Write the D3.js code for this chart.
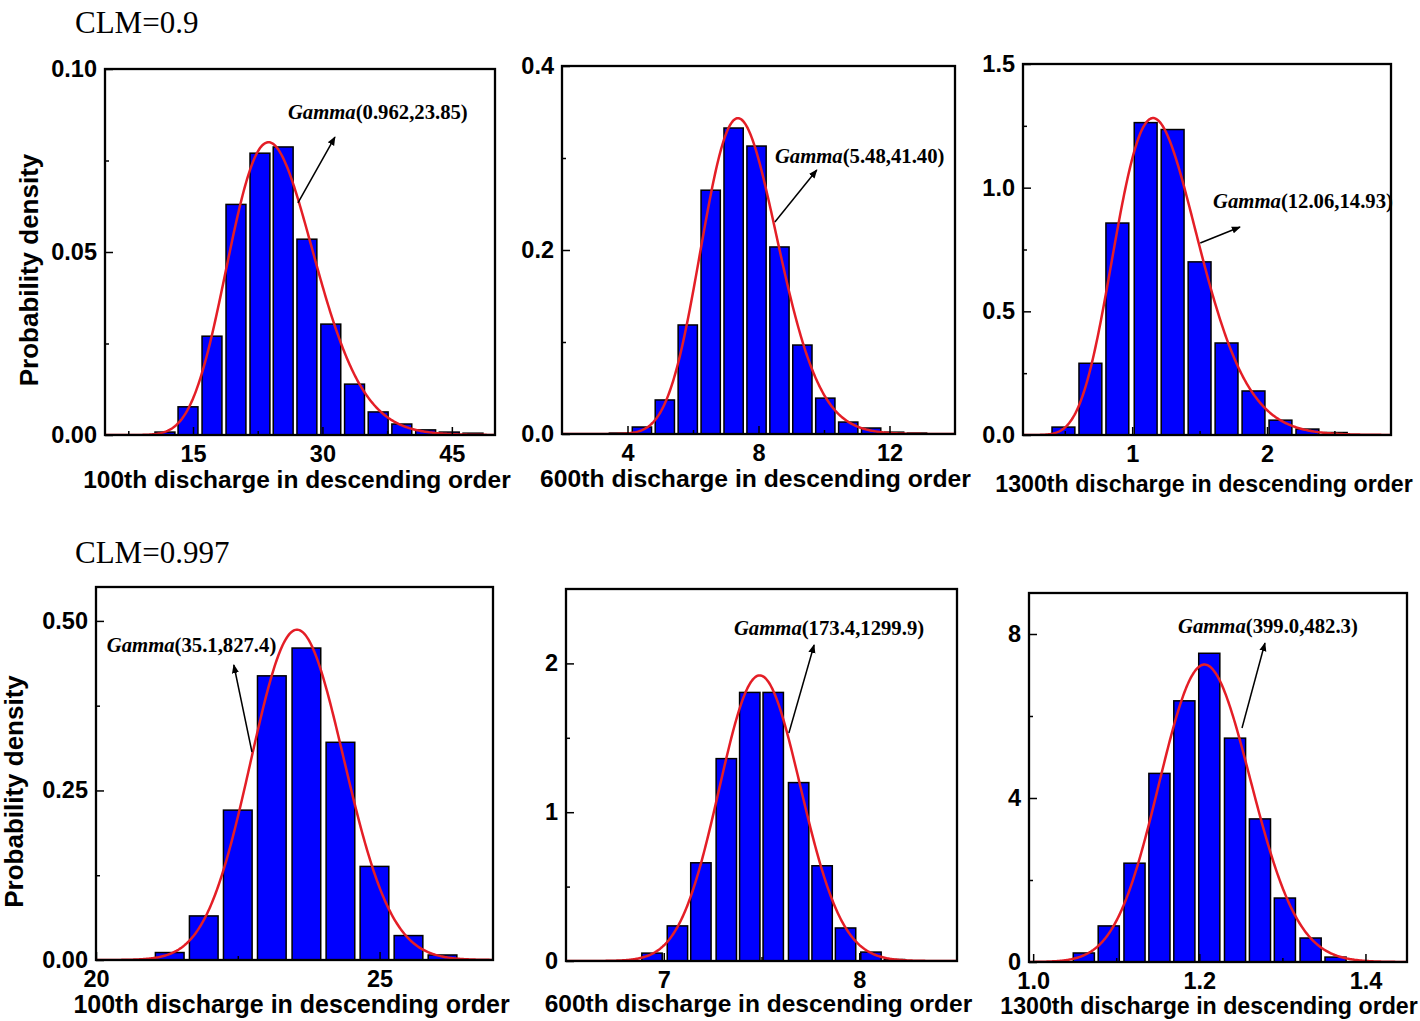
<!DOCTYPE html>
<html>
<head>
<meta charset="utf-8">
<script src="https://cdn.jsdelivr.net/npm/d3@7"></script>
<style>
  body { margin: 0; background: #fff; }
  svg { display: block; }
  .tick text { font-family: "Liberation Sans", Arial, sans-serif; font-weight: bold; font-size: 23.5px; fill: #000; }
  .ttl { font-family: "Liberation Sans", Arial, sans-serif; font-weight: bold; font-size: 24.5px; fill: #000; }
  .clm { font-family: "Liberation Serif", "Times New Roman", serif; font-size: 31px; fill: #000; }
  .gam { font-family: "Liberation Serif", "Times New Roman", serif; font-weight: bold; font-size: 20.7px; fill: #000; }
</style>
</head>
<body>
<div id="canvas"></div>
<script>
// values, one entry per panel (top row CLM=0.9, bottom row CLM=0.997)
var rowTitles = ["CLM=0.9", "CLM=0.997"];
var xTitles = ["100th discharge in descending order", "600th discharge in descending order",
               "1300th discharge in descending order", "100th discharge in descending order",
               "600th discharge in descending order", "1300th discharge in descending order"];

var gammaRate  = [0.962, 5.48, 12.06, 35.1, 173.4, 399.0];
var gammaShape = [23.85, 41.40, 14.93, 827.4, 1299.9, 482.3];
var gammaText  = ["(0.962,23.85)", "(5.48,41.40)", "(12.06,14.93)", "(35.1,827.4)", "(173.4,1299.9)", "(399.0,482.3)"];

var xDomains = [[4.8, 50], [2, 14], [0.19, 2.92], [20, 27], [6.5, 8.5], [0.995, 1.45]];
var yDomains = [[0, 0.10], [0, 0.4], [0, 1.5], [0, 0.55], [0, 2.5], [0, 9]];

var xTicks = [[15, 30, 45], [4, 8, 12], [1, 2], [20, 25], [7, 8], [1.0, 1.2, 1.4]];
var xTickLabels = [["15", "30", "45"], ["4", "8", "12"], ["1", "2"], ["20", "25"], ["7", "8"], ["1.0", "1.2", "1.4"]];
var xMinor = [[7.5, 22.5, 37.5], [6, 10], [0.5, 1.5, 2.5], [22.5], [7.5], [1.1, 1.3]];

var yTicks = [[0, 0.05, 0.10], [0, 0.2, 0.4], [0, 0.5, 1.0, 1.5], [0, 0.25, 0.5], [0, 1, 2], [0, 4, 8]];
var yTickLabels = [["0.00", "0.05", "0.10"], ["0.0", "0.2", "0.4"], ["0.0", "0.5", "1.0", "1.5"],
                   ["0.00", "0.25", "0.50"], ["0", "1", "2"], ["0", "4", "8"]];
var yMinor = [[0.025, 0.075], [0.1, 0.3], [0.25, 0.75, 1.25], [0.125, 0.375], [0.5, 1.5], [2, 6]];

var binWidths = [2.746, 0.70, 0.2018, 0.6017, 0.1241, 0.03027];
var binCenters = [
  [11.75, 14.42, 17.2, 19.98, 22.76, 25.45, 28.2, 30.97, 33.72, 36.46, 39.2, 41.96, 44.7, 47.45],
  [3.74, 4.44, 5.14, 5.84, 6.54, 7.24, 7.94, 8.64, 9.34, 10.04, 10.74, 11.44, 12.14, 12.84],
  [0.49, 0.69, 0.89, 1.10, 1.30, 1.50, 1.70, 1.90, 2.10, 2.30, 2.51],
  [21.30, 21.90, 22.50, 23.10, 23.71, 24.31, 24.91, 25.51, 26.11],
  [6.94, 7.07, 7.19, 7.32, 7.44, 7.56, 7.69, 7.81, 7.93, 8.06, 8.18],
  [1.061, 1.091, 1.122, 1.152, 1.182, 1.212, 1.243, 1.273, 1.303, 1.334, 1.364]
];
var binHeights = [
  [0.0008, 0.0077, 0.027, 0.063, 0.077, 0.0787, 0.0535, 0.0303, 0.0139, 0.0063, 0.003, 0.0014, 0.0008, 0.0005],
  [0.001, 0.0076, 0.037, 0.1185, 0.265, 0.3326, 0.313, 0.2033, 0.0967, 0.039, 0.013, 0.0065, 0.002, 0.001],
  [0.032, 0.29, 0.857, 1.263, 1.235, 0.70, 0.372, 0.178, 0.06, 0.024, 0.01],
  [0.011, 0.065, 0.221, 0.419, 0.460, 0.321, 0.138, 0.036, 0.0074],
  [0.053, 0.236, 0.66, 1.36, 1.805, 1.805, 1.199, 0.64, 0.222, 0.06, 0.01],
  [0.22, 0.88, 2.41, 4.6, 6.37, 7.53, 5.46, 3.49, 1.56, 0.585, 0.12]
];

// annotation anchors in data units: label start, arrow tail (on curve) -> arrow head
var labelAt = [[26.0, 0.0863], [8.50, 0.2946], [1.60, 0.918], [20.19, 0.4542], [7.359, 2.191], [1.1743, 8.02]];
var arrowFrom = [[27.16, 0.0634], [8.50, 0.2304], [1.505, 0.776], [22.75, 0.3067], [7.64, 1.532], [1.2514, 5.707]];
var arrowTo = [[31.45, 0.0814], [9.78, 0.287], [1.80, 0.841], [22.43, 0.435], [7.769, 2.124], [1.279, 7.78]];

// panel frames in page pixels; td = title baseline below frame, tx = title x shift, ts = title font size
var frames = [
  {l: 105, t: 69, r: 495, b: 435, td: 53, tx: -3, ts: 24.5},
  {l: 562, t: 66, r: 955, b: 434, td: 53, tx: -3, ts: 24.7},
  {l: 1023, t: 64, r: 1391, b: 435, td: 57, tx: -3, ts: 23.2},
  {l: 96, t: 587, r: 493, b: 960, td: 53, tx: -3, ts: 25},
  {l: 566, t: 589, r: 957, b: 961, td: 51, tx: -3, ts: 24.5},
  {l: 1029, t: 593, r: 1407, b: 962, td: 52, tx: -9, ts: 23.2}
];

var W = 1420, H = 1021;
var svg = d3.select('#canvas').append('svg').attr('width', W).attr('height', H);

svg.append('defs').append('marker')
    .attr('id', 'arr').attr('viewBox', '0 0 10 10')
    .attr('refX', 9).attr('refY', 5)
    .attr('markerWidth', 9).attr('markerHeight', 9)
    .attr('markerUnits', 'userSpaceOnUse')
    .attr('orient', 'auto')
    .append('path').attr('d', 'M0,1 L10,5 L0,9 Z').attr('fill', '#000');

function lnGamma(z) {
  var c = [0.99999999999980993, 676.5203681218851, -1259.1392167224028, 771.32342877765313,
           -176.61502916214059, 12.507343278686905, -0.13857109526572012, 9.9843695780195716e-6,
           1.5056327351493116e-7];
  z -= 1;
  var x = c[0];
  for (var i = 1; i < 9; i++) x += c[i] / (z + i);
  var t = z + 7.5;
  return 0.5 * Math.log(2 * Math.PI) + (z + 0.5) * Math.log(t) - t + Math.log(x);
}
function gammaPdf(x, rate, shape) {
  if (x <= 0) return 0;
  return Math.exp(shape * Math.log(rate) + (shape - 1) * Math.log(x) - rate * x - lnGamma(shape));
}

rowTitles.forEach(function(t, i) {
  svg.append('text').attr('class', 'clm').attr('x', 75).attr('y', i === 0 ? 33 : 563).text(t);
});

frames.forEach(function(f, p) {
  var x = d3.scaleLinear().domain(xDomains[p]).range([f.l, f.r]);
  var y = d3.scaleLinear().domain(yDomains[p]).range([f.b, f.t]);
  var g = svg.append('g').attr('class', 'panel');

  g.append('clipPath').attr('id', 'clip' + p)
    .append('rect').attr('x', f.l).attr('y', f.t).attr('width', f.r - f.l).attr('height', f.b - f.t);

  var bins = binCenters[p].map(function(c, i) { return {c: c, h: binHeights[p][i]}; });
  var bw = binWidths[p] * 0.84;
  g.selectAll('rect.bar').data(bins).enter().append('rect')
    .attr('class', 'bar')
    .attr('x', function(d) { return x(d.c - bw / 2); })
    .attr('width', function(d) { return x(d.c + bw / 2) - x(d.c - bw / 2); })
    .attr('y', function(d) { return y(d.h); })
    .attr('height', function(d) { return y(0) - y(d.h); })
    .attr('fill', '#0000ff').attr('stroke', '#000').attr('stroke-width', 1.5);

  var pts = d3.range(0, 401).map(function(i) {
    var xv = xDomains[p][0] + (xDomains[p][1] - xDomains[p][0]) * i / 400;
    return [xv, gammaPdf(xv, gammaRate[p], gammaShape[p])];
  });
  g.append('path').datum(pts)
    .attr('clip-path', 'url(#clip' + p + ')')
    .attr('d', d3.line().x(function(d) { return x(d[0]); }).y(function(d) { return y(d[1]); }))
    .attr('fill', 'none').attr('stroke', '#e41e26').attr('stroke-width', 2.5);

  // axes with inward ticks
  g.append('g').attr('transform', 'translate(0,' + f.b + ')')
    .call(d3.axisBottom(x).tickValues(xTicks[p]).tickSize(-8).tickPadding(10)
      .tickFormat(function(d, i) { return xTickLabels[p][i]; }));
  g.append('g').attr('transform', 'translate(0,' + f.b + ')')
    .call(d3.axisBottom(x).tickValues(xMinor[p]).tickSize(-4).tickFormat(''));
  g.append('g').attr('transform', 'translate(' + f.l + ',0)')
    .call(d3.axisLeft(y).tickValues(yTicks[p]).tickSize(-8).tickPadding(8)
      .tickFormat(function(d, i) { return yTickLabels[p][i]; }));
  g.append('g').attr('transform', 'translate(' + f.l + ',0)')
    .call(d3.axisLeft(y).tickValues(yMinor[p]).tickSize(-4).tickFormat(''));
  g.selectAll('.domain').remove();
  g.selectAll('.tick line').attr('stroke', '#000').attr('stroke-width', 1.5);

  g.append('rect').attr('x', f.l).attr('y', f.t).attr('width', f.r - f.l).attr('height', f.b - f.t)
    .attr('fill', 'none').attr('stroke', '#000').attr('stroke-width', 2.3);

  g.append('text').attr('class', 'ttl')
    .attr('x', (f.l + f.r) / 2 + f.tx).attr('y', f.b + f.td)
    .attr('text-anchor', 'middle').style('font-size', f.ts + 'px').text(xTitles[p]);

  if (p === 0 || p === 3) {
    var bx = p === 0 ? 38 : 23;
    g.append('text').attr('class', 'ttl')
      .attr('transform', 'translate(' + bx + ',' + ((f.t + f.b) / 2 + 18) + ') rotate(-90)')
      .attr('text-anchor', 'middle').style('font-size', '26px').text('Probability density');
  }

  var lab = g.append('text').attr('class', 'gam')
    .attr('x', x(labelAt[p][0])).attr('y', y(labelAt[p][1]));
  lab.append('tspan').style('font-style', 'italic').text('Gamma');
  lab.append('tspan').text(gammaText[p]);

  g.append('line')
    .attr('x1', x(arrowFrom[p][0])).attr('y1', y(arrowFrom[p][1]))
    .attr('x2', x(arrowTo[p][0])).attr('y2', y(arrowTo[p][1]))
    .attr('stroke', '#000').attr('stroke-width', 1.5)
    .attr('marker-end', 'url(#arr)');
});
</script>
</body>
</html>
